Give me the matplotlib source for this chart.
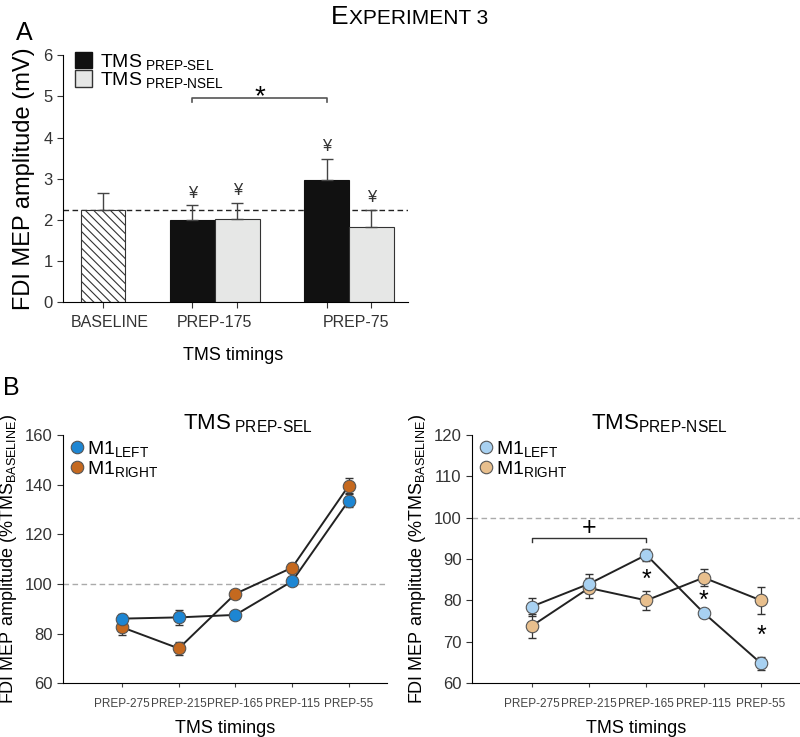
import matplotlib
matplotlib.use("Agg")
import matplotlib.pyplot as plt
from matplotlib.patches import Patch
from matplotlib.lines import Line2D
import numpy as np

plt.rcParams["font.family"] = ["Liberation Sans", "DejaVu Sans"]
plt.rcParams["mathtext.fontset"] = "custom"
plt.rcParams["mathtext.rm"] = "Liberation Sans"
plt.rcParams["mathtext.it"] = "Liberation Sans"
plt.rcParams["hatch.linewidth"] = 0.8

# ---- panel A data ----
a_groups = ["BASELINE", "PREP-175", "PREP-75"]
a_baseline = 2.25
a_baseline_err = 0.40
a_sel = [2.00, 2.97]
a_sel_err = [0.35, 0.52]
a_nsel = [2.03, 1.83]
a_nsel_err = [0.37, 0.40]

# ---- panel B data ----
b_timings = ["PREP-275", "PREP-215", "PREP-165", "PREP-115", "PREP-55"]
sel_left = [86.0, 86.5, 87.5, 101.0, 133.5]
sel_left_err = [2.0, 3.0, 1.5, 1.0, 2.5]
sel_right = [82.5, 74.0, 96.0, 106.5, 139.5]
sel_right_err = [3.0, 2.5, 1.5, 2.0, 3.0]
nsel_left = [78.5, 84.0, 91.0, 77.0, 64.8]
nsel_left_err = [2.2, 2.3, 1.5, 1.0, 1.5]
nsel_right = [73.8, 83.0, 80.0, 85.5, 80.0]
nsel_right_err = [3.0, 2.5, 2.2, 2.0, 3.3]

C_LEFT = "#1d86d3"
C_RIGHT = "#c5691f"
C_LEFT_L = "#a8d1f1"
C_RIGHT_L = "#e8bf8d"

fig = plt.figure(figsize=(8.0, 7.37), dpi=100)

# title in small caps
fig.text(0.436, 0.968, "E", fontsize=19, ha="right", va="baseline")
fig.text(0.436, 0.968, "XPERIMENT 3", fontsize=15, ha="left", va="baseline")
fig.text(0.020, 0.946, "A", fontsize=18, va="baseline")
fig.text(0.004, 0.464, "B", fontsize=18, va="baseline")

# ================= panel A =================
ax = fig.add_axes([0.079, 0.590, 0.431, 0.335])
pos_base = 0.0
pos_sel = [2.0, 5.0]
pos_nsel = [3.0, 6.0]
w = 1.0
ax.bar(pos_base, a_baseline, w, color="white", edgecolor="#333333",
       hatch="\\\\\\\\", linewidth=0.8, zorder=2)
ax.errorbar(pos_base, a_baseline, yerr=[[0], [a_baseline_err]], fmt="none",
            ecolor="#444444", elinewidth=1, capsize=4, zorder=3)
ax.bar(pos_sel, a_sel, w, color="#111111", edgecolor="#111111", linewidth=0.8, zorder=2)
ax.bar(pos_nsel, a_nsel, w, color="#e6e7e6", edgecolor="#333333", linewidth=0.8, zorder=2)
ax.errorbar(pos_sel, a_sel, yerr=[[0, 0], a_sel_err], fmt="none",
            ecolor="#444444", elinewidth=1, capsize=4, zorder=3)
ax.errorbar(pos_nsel, a_nsel, yerr=[[0, 0], a_nsel_err], fmt="none",
            ecolor="#444444", elinewidth=1, capsize=4, zorder=3)
ax.axhline(a_baseline, color="#222222", linestyle=(0, (4, 2.5)), linewidth=1, zorder=1)

for xs, ys, es in [(pos_sel, a_sel, a_sel_err), (pos_nsel, a_nsel, a_nsel_err)]:
    for x, y, e in zip(xs, ys, es):
        ax.text(x, y + e + 0.12, "¥", ha="center", va="bottom", fontsize=12, color="#333333")

# significance bracket
ax.plot([pos_sel[0], pos_sel[0], pos_sel[1], pos_sel[1]], [4.86, 4.96, 4.96, 4.86],
        color="#555555", linewidth=1.2)
ax.text(np.mean(pos_sel), 4.97, "*", ha="center", va="center", fontsize=20)

ax.set_xlim(-0.89, 6.82)
ax.set_ylim(0, 6)
ax.set_yticks(range(0, 7))
ax.set_xticks([pos_base] + pos_sel[:1] + pos_nsel[:1] + pos_sel[1:] + pos_nsel[1:])
ax.set_xticklabels([])
for x, lab in zip([0.15, 2.5, 5.65], a_groups):
    ax.text(x, -0.3, lab, ha="center", va="top", fontsize=11.5, color="#333333",
            transform=ax.transData)
ax.text(2.9, -1.1, "TMS timings", ha="center", va="top", fontsize=13, transform=ax.transData)
ax.tick_params(axis="both", direction="out", length=4, labelsize=12, colors="#333333")
ax.set_ylabel("FDI MEP amplitude (mV)", fontsize=17, labelpad=6)
for s in ["top", "right"]:
    ax.spines[s].set_visible(False)
handles = [Patch(facecolor="#111111", edgecolor="#111111"),
           Patch(facecolor="#e6e7e6", edgecolor="#333333")]
ax.legend(handles, [r"TMS$_{\text{ PREP-SEL}}$", r"TMS$_{\text{ PREP-NSEL}}$"],
          loc="upper left", bbox_to_anchor=(0.0, 1.06), frameon=False, fontsize=14,
          handlelength=0.9, handleheight=0.9, handletextpad=0.4, labelspacing=-0.1,
          borderaxespad=0.2)


# ================= panel B =================
def panel_b(rect, left, left_err, right, right_err, c_left, c_right, ylim, yticks, title):
    axb = fig.add_axes(rect)
    x = np.arange(len(b_timings))
    axb.axhline(100, color="#aaaaaa", linestyle=(0, (4, 2.5)), linewidth=1, zorder=0)
    for vals, errs, c in [(right, right_err, c_right), (left, left_err, c_left)]:
        axb.errorbar(x, vals, yerr=errs, fmt="none", ecolor="#333333",
                     elinewidth=0.9, capsize=3, zorder=2)
        axb.plot(x, vals, color="#222222", linewidth=1.4, zorder=2)
        axb.plot(x, vals, "o", markersize=9, markerfacecolor=c,
                 markeredgecolor="#555555", markeredgewidth=0.8, zorder=3)
    axb.set_xlim(-1.04, 4.68)
    axb.set_ylim(*ylim)
    axb.set_yticks(yticks)
    axb.set_xticks(x)
    axb.set_xticklabels(b_timings, fontsize=8.5, color="#444444")
    axb.tick_params(axis="x", direction="out", length=3, pad=8, colors="#444444")
    axb.tick_params(axis="y", direction="out", length=4, labelsize=12, colors="#333333")
    axb.set_xlabel("TMS timings", fontsize=13, labelpad=7)
    axb.set_ylabel(r"FDI MEP amplitude (%TMS$_{\text{BASELINE}}$)", fontsize=13, labelpad=4)
    for s in ["top", "right"]:
        axb.spines[s].set_visible(False)
    axb.set_title(title, fontsize=16, pad=4, x=0.57)
    hs = [Line2D([], [], marker="o", linestyle="none", markersize=9,
                 markerfacecolor=c_left, markeredgecolor="#555555", markeredgewidth=0.8),
          Line2D([], [], marker="o", linestyle="none", markersize=9,
                 markerfacecolor=c_right, markeredgecolor="#555555", markeredgewidth=0.8)]
    axb.legend(hs, [r"M1$_{\text{LEFT}}$", r"M1$_{\text{RIGHT}}$"], loc="upper left",
               bbox_to_anchor=(-0.01, 1.03), frameon=False, fontsize=14,
               handlelength=0.6, handletextpad=0.2, labelspacing=0.0, borderaxespad=0.2)
    return axb


panel_b([0.079, 0.073, 0.405, 0.337], sel_left, sel_left_err, sel_right, sel_right_err,
        C_LEFT, C_RIGHT, (60, 160), range(60, 161, 20), r"TMS$_{\text{ PREP-SEL}}$")
axr = panel_b([0.590, 0.073, 0.41, 0.337], nsel_left, nsel_left_err, nsel_right, nsel_right_err,
              C_LEFT_L, C_RIGHT_L, (60, 120), range(60, 121, 10), r"TMS$_{\text{PREP-NSEL}}$")

# significance marks, NSEL panel
axr.plot([0, 0, 2, 2], [94.2, 95.0, 95.0, 94.2], color="#333333", linewidth=1)
axr.text(1.0, 94.6, "+", ha="center", va="bottom", fontsize=18)
for xi, yi in [(2, 85.0), (3, 80.0), (4, 71.5)]:
    axr.text(xi, yi, "*", ha="center", va="center", fontsize=18)

fig.savefig("out.png", dpi=100)
